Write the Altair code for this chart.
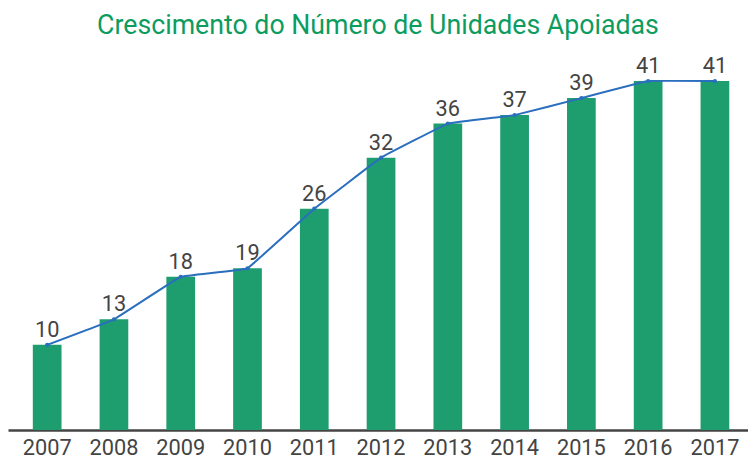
import altair as alt
import pandas as pd

years = ["2007", "2008", "2009", "2010", "2011", "2012", "2013", "2014", "2015", "2016", "2017"]
values = [10, 13, 18, 19, 26, 32, 36, 37, 39, 41, 41]

df = pd.DataFrame({"ano": years, "unidades": values})

FONT = "Liberation Sans Narrow, Roboto, sans-serif"

x = alt.X("ano:N", sort=years, title=None,
          scale=alt.Scale(paddingInner=0.57, paddingOuter=0.326, align=0.57),
          axis=alt.Axis(labelAngle=0, ticks=False, labelFontSize=22, labelFont=FONT,
                        labelColor="#444444", labelPadding=8, domainColor="#444444",
                        domainWidth=2.5, grid=False))
y = alt.Y("unidades:Q", title=None, scale=alt.Scale(domain=[0, 45]), axis=None)

base = alt.Chart(df).encode(x=x, y=y)

bars = base.mark_bar(color="#1e9e6f")
line = base.mark_line(color="#2a6ebe", strokeWidth=2, interpolate="cardinal", tension=0.85)
points = base.mark_point(color="#2a6ebe", filled=True, size=18, opacity=1)
labels = base.mark_text(font=FONT, fontSize=22, color="#444444", baseline="alphabetic", dy=-8).encode(
    text="unidades:Q")

chart = alt.layer(bars, line, points, labels).properties(
    width=748, height=387,
    title=alt.TitleParams("Crescimento do Número de Unidades Apoiadas", font=FONT, fontSize=27,
                          fontWeight="normal", color="#0c9c5f", anchor="middle", offset=7),
    autosize=alt.AutoSizeParams(type="none"),
    padding={"left": 0, "top": 37, "right": 0, "bottom": 33},
).configure_view(stroke=None)

chart.save("out.html", embed_options={"renderer": "svg", "actions": False})
